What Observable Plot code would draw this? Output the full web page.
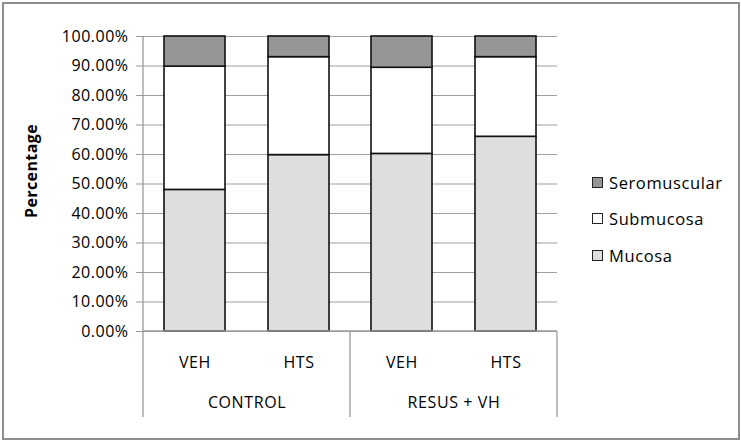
<!DOCTYPE html>
<html>
<head>
<meta charset="utf-8">
<script src="https://cdn.jsdelivr.net/npm/d3@7"></script>
<script src="https://cdn.jsdelivr.net/npm/@observablehq/plot@0.6"></script>
<style>
  html, body { margin: 0; padding: 0; background: #fff; }
  #wrap { position: relative; width: 741px; height: 441px; overflow: hidden; font-family: "Open Sans", sans-serif; }
  #border { position: absolute; left: 2px; top: 2px; width: 734px; height: 434px; border: 2px solid #8e8e8e; pointer-events: none; }
  #legend { position: absolute; left: 592px; top: 164px; font-size: 16.5px; letter-spacing: 0.6px; color: #000; }
  .item { display: flex; align-items: center; height: 36.5px; }
  .sw { width: 9px; height: 9px; border: 1px solid #222; margin-right: 6px; }
</style>
</head>
<body>
<div id="wrap"><div id="chart"></div><div id="legend"></div><div id="border"></div></div>
<script>
// ---- data ----
const groups = ["CONTROL", "CONTROL", "RESUS + VH", "RESUS + VH"];
const treatments = ["VEH", "HTS", "VEH", "HTS"];
const layers = ["Mucosa", "Submucosa", "Seromuscular"];
const mucosa = [48.0, 59.8, 60.2, 66.0];
const submucosa = [41.8, 33.2, 29.2, 27.0];
const seromuscular = [10.2, 7.0, 10.6, 7.0];
const layerColors = ["#dedede", "#ffffff", "#969696"];
const yTicks = [0, 0.1, 0.2, 0.3, 0.4, 0.5, 0.6, 0.7, 0.8, 0.9, 1.0];
const yLabel = "Percentage";

const series = {Mucosa: mucosa, Submucosa: submucosa, Seromuscular: seromuscular};
const rows = [];
layers.forEach(layer => {
  series[layer].forEach((v, i) => {
    rows.push({group: groups[i], treatment: treatments[i], layer, value: v / 100});
  });
});

const W = 741, H = 441;
const mL = 143, mR = 184, mT = 36, mB = 110;

const plot = Plot.plot({
  width: W, height: H,
  marginLeft: mL, marginRight: mR, marginTop: mT, marginBottom: mB,
  style: {fontFamily: "Open Sans, sans-serif", color: "#000", background: "transparent", overflow: "visible"},
  fx: {domain: ["CONTROL", "RESUS + VH"], padding: 0},
  x: {domain: ["VEH", "HTS"], paddingInner: 0.41, paddingOuter: 0.2},
  y: {domain: [0, 1]},
  color: {domain: layers, range: layerColors},
  marks: [
    Plot.gridY(yTicks, {stroke: "#a0a0a0", strokeOpacity: 1, strokeWidth: 1.2}),
    Plot.barY(rows, Plot.stackY({order: layers}, {
      fx: "group", x: "treatment", y: "value", fill: "layer",
      stroke: "#111", strokeWidth: 1.6, inset: 0
    })),
    Plot.axisY({ticks: yTicks, tickFormat: d => (d * 100).toFixed(2) + "%", tickSize: 7, tickPadding: 8,
      fontSize: 16, stroke: "#999", label: null}),
    Plot.axisY({ticks: [], tickSize: 0, label: yLabel, labelAnchor: "center", labelOffset: 118,
      labelArrow: "none", fontSize: 16, fontWeight: "bold"}),
    Plot.axisX({tickSize: 0, tickPadding: 25, label: null, fontSize: 16}),
    Plot.axisFx({anchor: "bottom", tickSize: 0, tickPadding: 65, label: null, fontSize: 16})
  ]
});

document.getElementById("chart").appendChild(plot);

// hierarchical axis lines (Excel-like)
const ys = plot.scale("y");
const fxs = plot.scale("fx");
const y0 = ys.apply(0), y1 = ys.apply(1);
const left = mL, right = W - mR;
const mid = fxs.apply("RESUS + VH");
const bottom = y0 + 86;
const svg = d3.select(plot);
const g = svg.append("g").attr("stroke", "#9a9a9a").attr("stroke-width", 1.3);
g.append("line").attr("x1", left).attr("x2", left).attr("y1", y1).attr("y2", bottom);
g.append("line").attr("x1", left).attr("x2", right).attr("y1", y0).attr("y2", y0);
g.append("line").attr("x1", mid).attr("x2", mid).attr("y1", y0).attr("y2", bottom);
g.append("line").attr("x1", right).attr("x2", right).attr("y1", y0).attr("y2", bottom);

// text styling
svg.selectAll('g[aria-label="y-axis tick label"] text').style("letter-spacing", "0.5px");
svg.selectAll('[aria-label="x-axis tick label"] text, [aria-label="fx-axis tick label"] text').style("letter-spacing", "0.6px");
svg.selectAll('[aria-label="y-axis label"] text').attr("dx", "13").style("letter-spacing", "0.4px");

// legend
const legend = d3.select("#legend");
layers.slice().reverse().forEach(layer => {
  const it = legend.append("div").attr("class", "item");
  it.append("div").attr("class", "sw").style("background", layerColors[layers.indexOf(layer)]);
  it.append("span").text(layer);
});
</script>
</body>
</html>
